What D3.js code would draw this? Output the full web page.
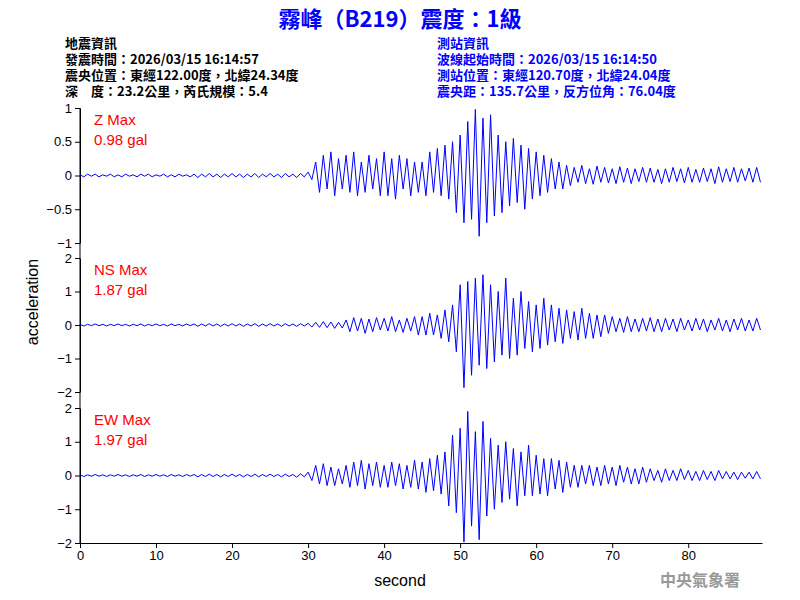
<!DOCTYPE html>
<html><head><meta charset="utf-8">
<script src="https://cdn.jsdelivr.net/npm/d3@7"></script>
<style>body{margin:0;background:#fff}</style></head>
<body><svg id="chart" width="800" height="600"></svg>
<script>
  // samples every 0.5 s (peaks of the wiggles)
  const step = 0.5;
  const zValues = [
    0.01,-0.02,0.02,-0.01,0.02,-0.02,0.01,-0.01,0.02,-0.02,0.01,-0.02,0.02,-0.01,0.01,-0.02,0.02,-0.01,0.02,-0.02,0.01,-0.01,0.02,-0.02,0.01,-0.02,0.02,-0.01,0.01,-0.02,
    0.02,-0.03,0.02,-0.02,0.03,-0.02,0.02,-0.03,0.02,-0.02,0.03,-0.02,0.02,-0.03,0.02,-0.02,0.03,-0.03,0.02,-0.02,0.03,-0.02,0.02,-0.03,0.03,-0.02,0.02,-0.03,0.03,-0.02,
    0.05,-0.06,
    0.2,-0.25,0.3,-0.2,0.35,-0.3,0.25,-0.2,
    0.3,-0.25,0.35,-0.3,0.2,-0.25,0.3,-0.2,0.25,-0.3,
    0.35,-0.3,0.25,-0.35,0.3,-0.2,0.25,-0.3,0.2,-0.25,
    0.2,-0.3,0.35,-0.25,0.4,-0.3,0.45,-0.35,0.5,-0.55,
    0.6,-0.7,0.8,-0.65,0.98,-0.9,0.85,-0.7,0.9,-0.6,
    0.6,-0.55,0.5,-0.45,0.55,-0.4,0.45,-0.5,0.4,-0.35,
    0.35,-0.3,0.3,-0.25,0.25,-0.2,0.2,-0.2,0.15,-0.15,
    0.12,-0.1,0.15,-0.12,0.1,-0.13,0.14,-0.1,0.12,-0.11,0.1,-0.12,0.13,-0.1,0.11,-0.12,0.1,-0.09,0.12,-0.1,
    0.11,-0.1,0.09,-0.12,0.1,-0.1,0.12,-0.09,0.1,-0.11,0.12,-0.1,0.09,-0.1,0.11,-0.09,0.1,-0.12,0.13,-0.1,
    0.1,-0.09,0.12,-0.1,0.1,-0.08,0.11,-0.1,0.12,-0.1
  ];
  const nsValues = [
    0.02,-0.03,0.02,-0.02,0.03,-0.02,0.02,-0.03,0.02,-0.02,0.03,-0.02,0.02,-0.03,0.02,-0.02,0.03,-0.03,0.02,-0.02,0.03,-0.02,0.02,-0.03,0.03,-0.02,0.02,-0.03,0.03,-0.02,
    0.03,-0.04,0.03,-0.03,0.04,-0.03,0.03,-0.04,0.03,-0.03,0.04,-0.03,0.03,-0.04,0.03,-0.03,0.04,-0.04,0.03,-0.03,0.04,-0.03,0.03,-0.04,0.04,-0.03,0.03,-0.04,0.04,-0.03,
    0.05,-0.06,0.08,-0.07,0.1,-0.08,0.09,-0.1,0.08,-0.09,
    0.15,-0.2,0.22,-0.18,0.2,-0.25,0.18,-0.2,0.22,-0.15,
    0.2,-0.18,0.25,-0.2,0.15,-0.22,0.2,-0.18,0.25,-0.3,
    0.25,-0.3,0.35,-0.3,0.3,-0.4,0.45,-0.5,0.6,-0.8,
    1.2,-1.87,1.3,-1.5,1.4,-1.2,1.5,-1.3,1.2,-1.1,
    1.0,-0.9,1.4,-1.0,0.8,-0.9,1.0,-0.7,0.7,-0.8,
    0.6,-0.7,0.8,-0.6,0.6,-0.5,0.5,-0.55,0.45,-0.4,
    0.4,-0.45,0.5,-0.4,0.35,-0.4,0.3,-0.35,0.3,-0.25,
    0.25,-0.2,0.2,-0.22,0.25,-0.2,0.18,-0.2,0.2,-0.18,0.22,-0.2,0.18,-0.2,0.2,-0.15,0.18,-0.2,0.2,-0.15,
    0.15,-0.18,0.2,-0.15,0.18,-0.2,0.15,-0.15,0.2,-0.18,0.15,-0.2,0.18,-0.15,0.2,-0.18,0.15,-0.18,0.2,-0.15
  ];
  const ewValues = [
    0.02,-0.03,0.02,-0.02,0.03,-0.02,0.02,-0.03,0.02,-0.02,0.03,-0.02,0.02,-0.03,0.02,-0.02,0.03,-0.03,0.02,-0.02,0.03,-0.02,0.02,-0.03,0.03,-0.02,0.02,-0.03,0.03,-0.02,
    0.03,-0.04,0.03,-0.03,0.04,-0.03,0.03,-0.04,0.03,-0.03,0.04,-0.03,0.03,-0.04,0.03,-0.03,0.04,-0.04,0.03,-0.03,0.04,-0.03,0.03,-0.04,0.04,-0.03,0.03,-0.05,0.05,-0.04,
    0.1,-0.15,
    0.3,-0.25,0.35,-0.3,0.25,-0.3,0.2,-0.25,
    0.3,-0.35,0.4,-0.3,0.45,-0.4,0.35,-0.3,0.4,-0.35,
    0.3,-0.35,0.4,-0.3,0.35,-0.4,0.3,-0.35,0.45,-0.4,
    0.4,-0.5,0.5,-0.45,0.6,-0.55,0.7,-0.9,1.2,-1.1,
    1.4,-1.97,1.9,-1.5,1.3,-1.9,1.6,-1.2,1.1,-1.0,
    0.9,-0.8,1.0,-0.7,0.8,-0.9,0.7,-0.6,0.9,-0.6,
    0.6,-0.55,0.5,-0.6,0.5,-0.4,0.45,-0.5,0.4,-0.35,
    0.3,-0.35,0.3,-0.25,0.3,-0.3,0.25,-0.3,0.3,-0.25,0.25,-0.3,0.3,-0.2,0.25,-0.25,0.2,-0.25,0.25,-0.2,
    0.2,-0.15,0.15,-0.2,0.2,-0.15,0.15,-0.15,0.2,-0.12,0.15,-0.15,0.12,-0.15,0.15,-0.12,0.12,-0.15,0.15,-0.1,
    0.12,-0.1,0.1,-0.12,0.1,-0.08,0.1,-0.1,0.12,-0.1
  ];
  const channels = ["Z", "NS", "EW"];
  const maxLabels = ["0.98 gal", "1.87 gal", "1.97 gal"];
  const yDomains = [[-1, 1], [-2, 2], [-2, 2]];
  const yTicks = [[-1, -0.5, 0, 0.5, 1], [-2, -1, 0, 1, 2], [-2, -1, 0, 1, 2]];
  const xTicks = [0, 10, 20, 30, 40, 50, 60, 70, 80];
  const title = "霧峰（B219）震度：1級";
  const quakeInfo = ["地震資訊", "發震時間：2026/03/15 16:14:57", "震央位置：東經122.00度，北緯24.34度", "深　度：23.2公里，芮氏規模：5.4"];
  const stationInfo = ["測站資訊", "波線起始時間：2026/03/15 16:14:50", "測站位置：東經120.70度，北緯24.04度", "震央距：135.7公里，反方位角：76.04度"];

  const svg = d3.select("#chart");
  const font = "Liberation Sans, Arial, sans-serif";
  const cjk = "'Noto Sans CJK TC', sans-serif";

  svg.append("text").attr("x", 400).attr("y", 27).attr("text-anchor", "middle")
    .attr("fill", "#0000ff").attr("font-size", 22).attr("font-weight", "bold")
    .attr("font-family", cjk).text(title);

  quakeInfo.forEach((t, i) => svg.append("text").attr("x", 65).attr("y", 48 + i * 16)
    .attr("font-size", 13).attr("font-weight", "bold").attr("font-family", cjk).text(t));
  stationInfo.forEach((t, i) => svg.append("text").attr("x", 437).attr("y", 48 + i * 16)
    .attr("fill", "#0000ff").attr("font-size", 13).attr("font-weight", "bold").attr("font-family", cjk).text(t));

  const x = d3.scaleLinear().domain([0, 89.7]).range([80, 762]);
  const panels = [[108, 243], [258, 392], [408, 543]];
  const series = [zValues, nsValues, ewValues];

  series.forEach((vals, i) => {
    const y = d3.scaleLinear().domain(yDomains[i]).range([panels[i][1], panels[i][0]]);
    const g = svg.append("g");
    g.append("g").attr("transform", "translate(80,0)")
      .call(d3.axisLeft(y).tickValues(yTicks[i]).tickFormat(d3.format("~g")).tickSize(5).tickSizeOuter(0))
      .call(a => a.selectAll("text").attr("font-size", 13).attr("font-family", font));
    g.append("path").datum(vals)
      .attr("fill", "none").attr("stroke", "#0000ff").attr("stroke-width", 1)
      .attr("d", d3.line().x((d, j) => x(j * step)).y(d => y(d)));
    g.append("text").attr("x", 94).attr("y", panels[i][0] + 17).attr("fill", "#ff0000")
      .attr("font-size", 15).attr("font-family", font).text(channels[i] + " Max");
    g.append("text").attr("x", 94).attr("y", panels[i][0] + 37).attr("fill", "#ff0000")
      .attr("font-size", 15).attr("font-family", font).text(maxLabels[i]);
  });

  svg.append("line").attr("x1", 80).attr("x2", 80).attr("y1", 108).attr("y2", 543).attr("stroke", "#000");
  svg.append("g").attr("transform", "translate(0,543)")
    .call(d3.axisBottom(x).tickValues(xTicks).tickSize(5).tickSizeOuter(0))
    .call(a => a.selectAll("text").attr("font-size", 13).attr("font-family", font));

  svg.append("text").attr("transform", "translate(38,302) rotate(-90)").attr("text-anchor", "middle")
    .attr("font-size", 16).attr("font-family", font).text("acceleration");
  svg.append("text").attr("x", 400).attr("y", 586).attr("text-anchor", "middle")
    .attr("font-size", 16).attr("font-family", font).text("second");
  svg.append("text").attr("x", 700).attr("y", 586).attr("text-anchor", "middle")
    .attr("fill", "#999").attr("font-size", 16).attr("font-weight", "bold").attr("font-family", cjk).text("中央氣象署");
</script></body></html>
